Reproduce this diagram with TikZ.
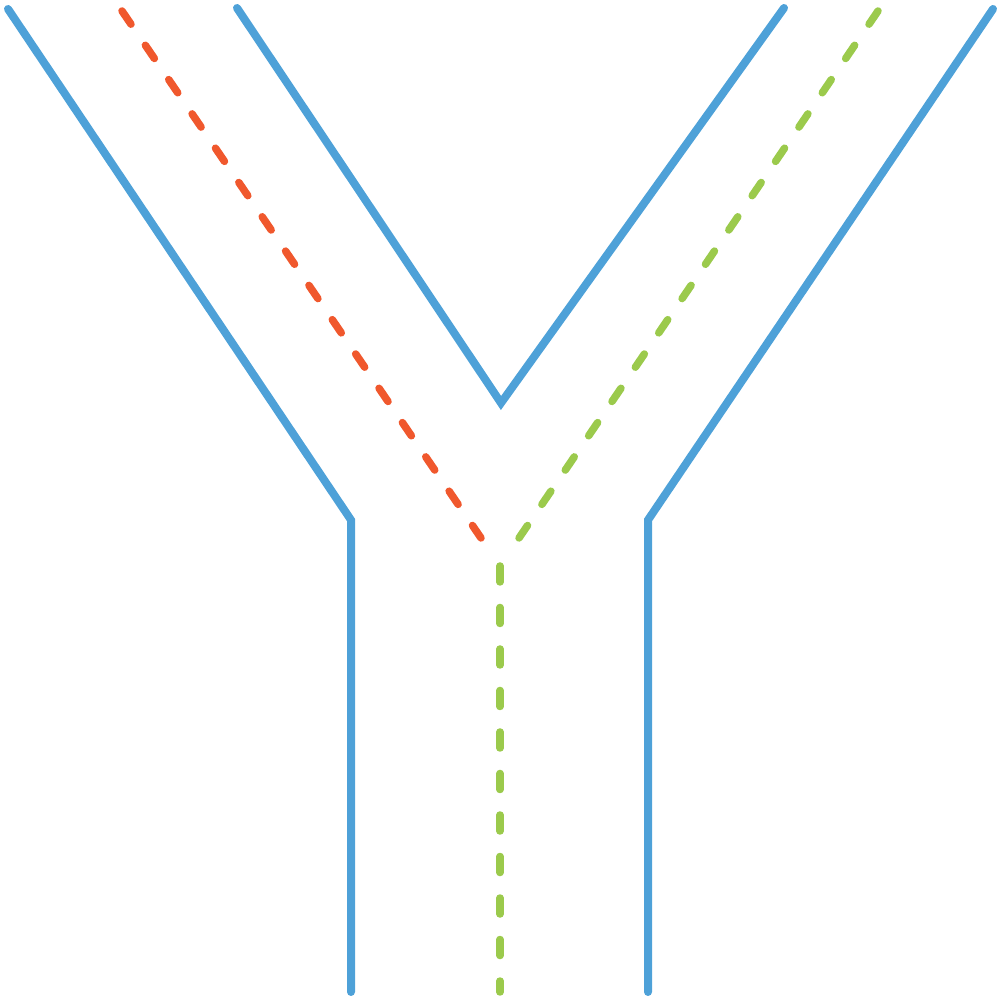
\documentclass[tikz,border=0pt]{standalone}
\usepackage{tikz}
\definecolor{wallblue}{RGB}{78,161,216}
\definecolor{routered}{RGB}{240,88,45}
\definecolor{routegreen}{RGB}{155,202,76}
\tikzset{
  wall/.style={draw=wallblue, line width=0.08cm, line cap=round},
  route/.style={line width=0.075cm, line cap=round, dash pattern=on 0.16cm off 0.255cm}
}
\begin{document}
\begin{tikzpicture}
            \useasboundingbox (0,0) rectangle (10,10);
            \coordinate (LT) at (0.08,9.91);
            \coordinate (LC) at (3.51,4.80);
            \coordinate (LB) at (3.51,0.08);
            \coordinate (IL) at (2.37,9.92);
            \coordinate (IV) at (5.01,5.97);
            \coordinate (IR) at (7.84,9.92);
            \coordinate (RT) at (9.93,9.91);
            \coordinate (RC) at (6.48,4.80);
            \coordinate (RB) at (6.48,0.08);
            \draw[wall] (LT) -- (LC) -- (LB);
            \draw[wall] (IL) -- (IV) -- (IR);
            \draw[wall] (RT) -- (RC) -- (RB);
            % dashed routes
            \coordinate (AT) at (1.22,9.89);
            \coordinate (AE) at (4.81,4.62);
            \coordinate (BT) at (8.78,9.89);
            \coordinate (BE) at (5.19,4.62);
            \coordinate (CT) at (5.00,4.34);
            \coordinate (CB) at (5.00,0.08);
            \draw[route, routered] (AT) -- (AE);
            \draw[route, routegreen] (BT) -- (BE);
            \draw[route, routegreen] (CT) -- (CB);
        \end{tikzpicture}
\end{document}
